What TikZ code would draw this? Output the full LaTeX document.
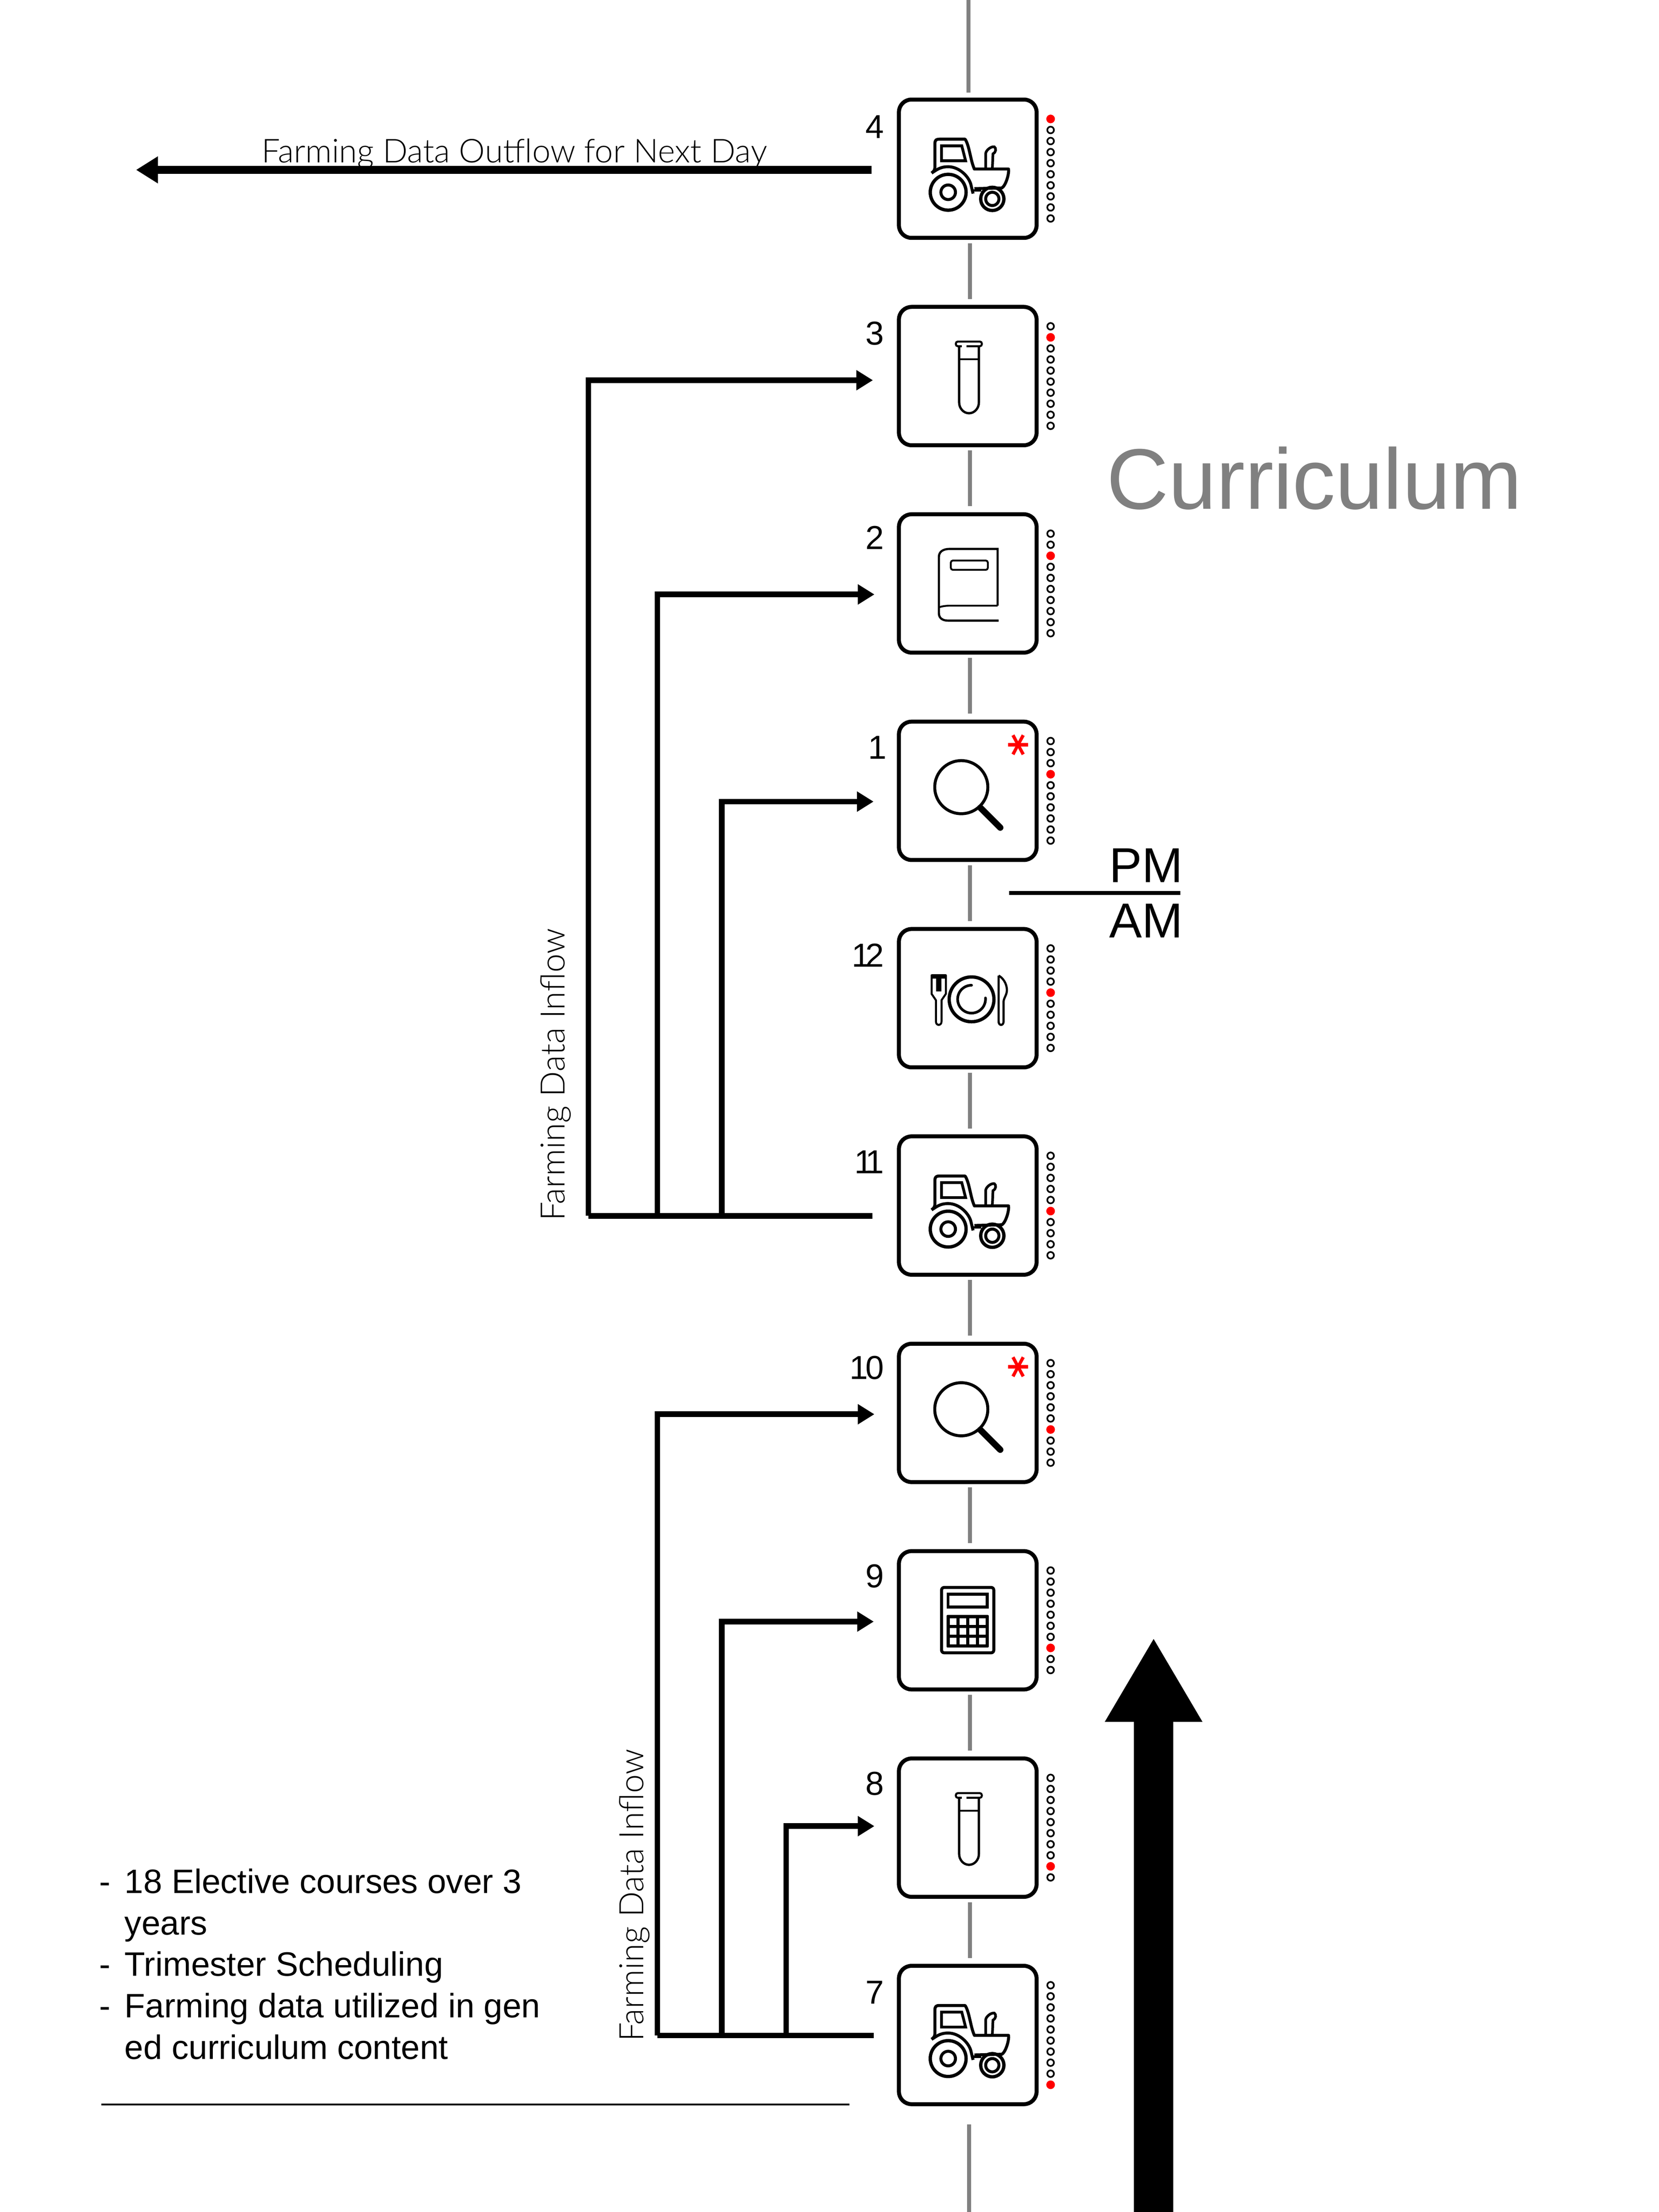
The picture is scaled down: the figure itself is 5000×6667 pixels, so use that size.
\documentclass[tikz,border=0pt]{standalone}
\usepackage{fontspec}
\setmainfont{Liberation Sans}
\newfontfamily\thinfont{Lato Light}
\newfontfamily\starfont{DejaVu Sans}
\usepackage{xcolor}
\usepackage{tikz}
\usetikzlibrary{arrows.meta,calc}

\newcommand{\dashitem}{\makebox[7.6pt][l]{-}}
\newcommand{\dashskip}{\hspace*{7.6pt}}

\tikzset{
    tractor/.pic={
        \draw[line width=1pt] (-59,-71) circle[radius=54];
        \draw[line width=.9pt] (-59,-71) circle[radius=22];
        \draw[line width=1pt] (74,-91) circle[radius=35];
        \draw[line width=.9pt] (74,-91) circle[radius=20];
        \draw[line width=.9pt, line join=round] (-109,-13) .. controls (-100,-5) and (-99,-5) .. (-99,10) -- (-99,75)
            .. controls (-99,87) and (-95,89) .. (-85,89) -- (-8,89) .. controls (5,70) and (8,25) .. (20,-1)
            -- (123,-1) .. controls (125,-15) and (115,-50) .. (103,-58) -- (20,-60);
        \draw[line width=.9pt] (-109,-13) .. controls (-95,-5) and (-85,6) .. (-59,6)
            .. controls (-25,6) and (5,-25) .. (10,-50) -- (16,-75);
        \draw[line width=.7pt] (16,-65.5) -- (40,-65.5);
        \draw[line width=.85pt] (-79,69) -- (-18,69) -- (-6.5,24) -- (-79,24) -- cycle;
        \draw[line width=.8pt] (54,-1) -- (54,45) .. controls (54,55) and (70,68) .. (80,66)
            .. controls (86,62) and (86,50) .. (76,45) -- (74,-1);
    },
    testtube/.pic={
        \draw[line width=.7pt] (-26,88) -- (-26,-79) arc[start angle=180,end angle=360,x radius=29.8,y radius=33] -- (33.6,88);
        \draw[line width=.5pt] (-26,51) -- (33.6,51);
        \draw[line width=.6pt, rounded corners=.6pt] (-18,90) -- (-36,90) -- (-36,104) -- (42.5,104) -- (42.5,90) -- (-4,90);
    },
    book/.pic={
        \draw[line width=.65pt] (90,-67) -- (90,104) -- (-55,104) .. controls (-75,104) and (-87,95) .. (-87,80)
            -- (-87,-90) .. controls (-87,-105) and (-75,-112) .. (-60,-112) -- (93,-112);
        \draw[line width=.55pt] (-87,-72) .. controls (-75,-68) and (-65,-67) .. (-50,-67) -- (90,-67);
        \draw[line width=.55pt, rounded corners=.6pt] (-51,69) rectangle (60.5,41);
    },
    lens/.pic={
        \draw[line width=.9pt] (-19.5,11) circle[radius=80];
        \draw[line width=1.9pt, line cap=round] (38,-51) -- (98,-111);
    },
    plate/.pic={
        \draw[line width=.6pt, line join=round] (-109,69) -- (-109,13) -- (-96,-6) -- (-96,-70)
            .. controls (-96,-84) and (-79,-84) .. (-79,-70) -- (-79,-6) -- (-66,13) -- (-66,69) -- cycle;
        \draw[line width=1.3pt] (-109,66) -- (-66,66);
        \draw[line width=1.5pt] (-87.5,69) -- (-87.5,20);
        \draw[line width=1pt] (11.5,-3.5) circle[radius=67.5];
        \draw[line width=.8pt, line cap=round] (11.5,39) arc[start angle=90,end angle=365,radius=42];
        \draw[line width=.65pt, line join=round] (93,68) -- (93,-70) .. controls (93,-84) and (108,-84) .. (108,-70)
            -- (108,-11) .. controls (108,0) and (118,10) .. (118,24) .. controls (118,45) and (105,62) .. (93,68);
    },
    calculator/.pic={
        \draw[line width=.9pt, rounded corners=.8pt] (-79,99) rectangle (78.5,-98);
        \draw[line width=.9pt] (-59.2,79) rectangle (58.7,40);
        \fill[rounded corners=.3pt] (-64,16) rectangle (63.4,-82);
        \foreach \cx in {-54.4,-25,4.2,33.5}
            \foreach \cy in {6.2,-23,-52.5}
                \fill[white] (\cx,\cy) rectangle ++(20,-20);
    }
}

\begin{document}
\begin{tikzpicture}[
        x=0.1pt, y=0.1pt,
        every node/.style={inner sep=0pt, font=\fontsize{10}{12}\selectfont},
        slot/.style={draw, line width=1.2pt, rounded corners=3.8pt, minimum width=41.5pt, minimum height=41.7pt},
        spine/.style={line width=1.2pt, color=gray},
        flow/.style={line width=1.7pt, -{Triangle[length=5pt,width=5.8pt]}},
        flowbar/.style={line width=1.7pt},
        star/.style={text=red, rotate=90, font=\starfont\bfseries\fontsize{13}{13}\selectfont},
        thin label/.style={font=\thinfont\fontsize{10.15}{12}\selectfont}]

    \useasboundingbox (0,0) rectangle (5000,-6667);

    % hours, top to bottom
    \foreach \k/\lab/\drop/\digits in {0/4/91.5/4, 1/3/93.5/3, 2/2/102.5/2, 3/1/95.5/{1\kern-.8pt}, 4/12/94.5/{1\kern-1.5pt 2},
                               5/11/96.5/{1\kern-2.3pt 1}, 6/10/101.5/{1\kern-.8pt 0}, 7/9/98.5/9, 8/8/98.5/8, 9/7/93.5/7} {
        \pgfmathsetmacro{\y}{-508.5-625*\k}
        \node[slot] (b\lab) at (2916.8,\y) {};
        \node[anchor=base east] (n\lab) at (2666,\y+\drop) {\digits};
        \foreach \i in {0,...,9} {
            \ifnum\i=\k
                \fill[red] (3166.5,\y+150-33.33*\i) circle[radius=13];
            \else
                \draw[line width=.5pt] (3166.5,\y+150-33.33*\i) circle[radius=10];
            \fi
        }
    }

    \pic at (b4) {tractor};
    \pic at (b3) {testtube};
    \pic at (b2) {book};
    \pic at (b1) {lens};
    \pic at (b12) {plate};
    \pic at (b11) {tractor};
    \pic at (b10) {lens};
    \pic at (b9) {calculator};
    \pic at (b8) {testtube};
    \pic at (b7) {tractor};

    \node[star] (star1) at ($(b1)+(171,138)$) {*};
    \node[star] (star10) at ($(b10)+(171,138)$) {*};

    % grey line through the hours
    \coordinate (spinetop) at (2919,0);
    \coordinate (spineend) at (2921,-6667);
    \draw[spine, shorten >=1.5pt] (spinetop) -- ([xshift=.2pt]b4.north);
    \foreach \upper/\lower in {4/3, 3/2, 2/1, 1/12, 12/11, 11/10, 10/9, 9/8, 8/7}
        \draw[spine, shorten <=1pt, shorten >=1.8pt] ([xshift=.6pt]b\upper.south) -- ([xshift=.6pt]b\lower.north);
    \draw[spine, shorten <=5.5pt] ([xshift=.4pt]b7.south) -- (spineend);

    % outflow
    \coordinate (out4) at (2627,-512);
    \coordinate (nextday) at (410,-512);
    \draw[line width=2.3pt, -{Triangle[length=6.6pt,width=7.7pt]}] (out4) -- (nextday);
    \node[thin label, anchor=base west, font=\thinfont\fontsize{9.9}{12}\selectfont] (outflow) at (787,-490) {Farming Data Outflow for Next Day};

    % afternoon inflow
    \coordinate (out11) at (2630,-3664.5);
    \coordinate (in3) at (2631,-1146);
    \coordinate (in2) at (2635.6,-1791.6);
    \coordinate (in1) at (2633,-2416);
    \draw[flowbar] (out11) -- (1773.5,-3664.5);
    \draw[flow] (1773.5,-3664.5) |- (in3);
    \draw[flow] (1981.5,-3664.5) |- (in2);
    \draw[flow] (2175.5,-3664.5) |- (in1);
    \node[thin label, rotate=90, anchor=base west] (inflowpm) at (1701.6,-3682) {Farming Data Inflow};

    % morning inflow
    \coordinate (out7) at (2633.5,-6135);
    \coordinate (in10) at (2635.5,-4262.5);
    \coordinate (in9) at (2633.5,-4887.5);
    \coordinate (in8) at (2635.5,-5504);
    \draw[flowbar] (out7) -- (1981.5,-6135);
    \draw[flow] (1981.5,-6135) |- (in10);
    \draw[flow] (2175.5,-6135) |- (in9);
    \draw[flow] (2369.5,-6135) |- (in8);
    \node[thin label, rotate=90, anchor=base west] (inflowam) at (1940,-6155) {Farming Data Inflow};

    % right side
    \node[anchor=base west, text=gray, font=\fontsize{25.9}{30}\selectfont] (title) at (3333,-1534) {Curriculum};
    \node[anchor=base east, font=\fontsize{14.8}{18}\selectfont] (pm) at (3567,-2659) {PM};
    \node[anchor=base east, font=\fontsize{14.8}{18}\selectfont] (am) at (3567,-2826) {AM};
    \coordinate (noonleft) at (3041,-2691.6);
    \coordinate (noonright) at (3557,-2691.6);
    \draw[line width=1.2pt] (noonleft) -- (noonright);

    \coordinate (timefoot) at (3477,-6667);
    \coordinate (timetip) at (3477,-4935.7);
    \draw[line width=11.8pt, -{Triangle[length=25.4pt,width=27.5pt]}] (timefoot) -- (timetip);

    % notes
    \node[anchor=north west, align=left, font=\fontsize{10.2}{12.5}\selectfont] (notes) at (298,-5630) {%
        \dashitem 18 Elective courses over 3\\
        \dashskip years\\
        \dashitem Trimester Scheduling\\
        \dashitem Farming data utilized in gen\\
        \dashskip ed curriculum content};
    \coordinate (ruleleft) at (305.5,-6343);
    \coordinate (ruleright) at (2560,-6343);
    \draw[line width=.55pt] (ruleleft) -- (ruleright);
\end{tikzpicture}
\end{document}
